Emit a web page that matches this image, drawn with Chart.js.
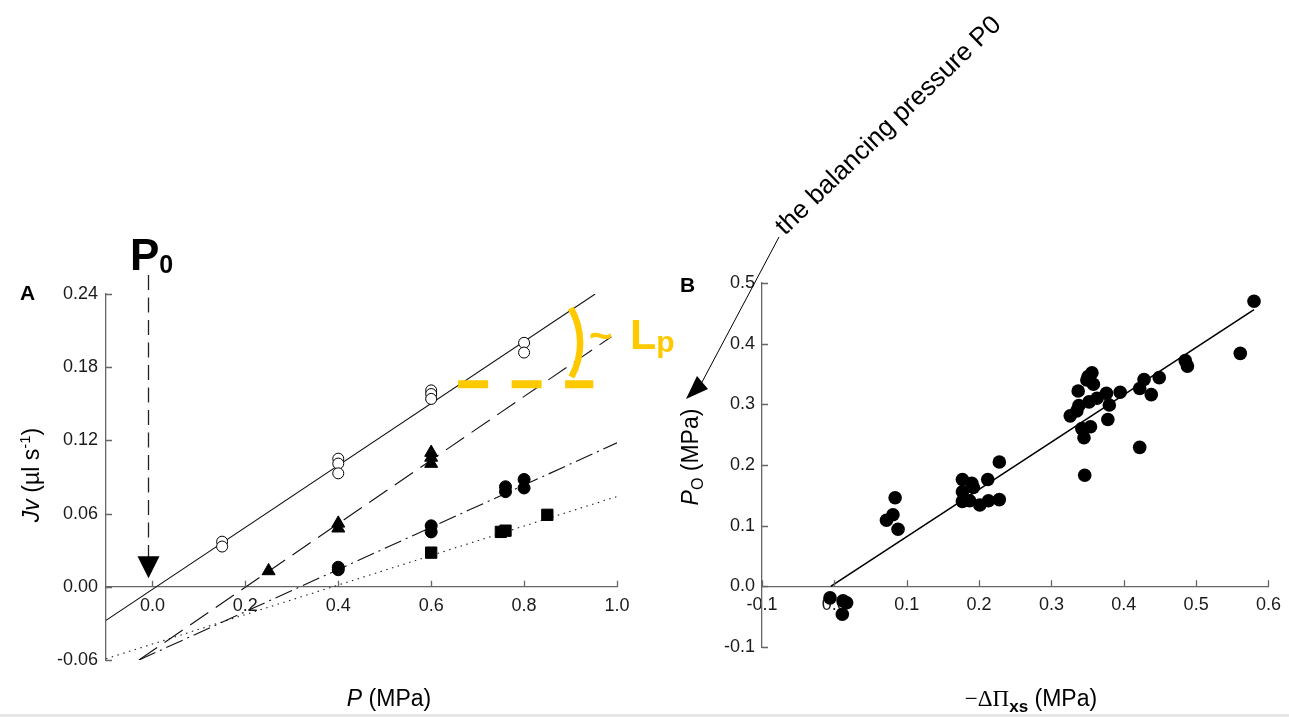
<!DOCTYPE html>
<html><head><meta charset="utf-8">
<script src="https://cdn.jsdelivr.net/npm/chart.js@4.4.1/dist/chart.umd.min.js"></script>
<style>
html,body{margin:0;padding:0;background:#fff;width:1289px;height:717px;overflow:hidden;}
#wa{position:absolute;left:0;top:0;width:700px;height:717px;}
#wb{position:absolute;left:640px;top:0;width:649px;height:717px;}
#strip{position:absolute;left:0;top:714px;width:1289px;height:3px;background:#e6e6e6;}
canvas{display:block;}
</style></head><body>
<div id="wa"><canvas id="ca" width="700" height="717" style="width:700px;height:717px"></canvas></div>
<div id="wb"><canvas id="cb" width="649" height="717" style="width:649px;height:717px"></canvas></div>
<div id="strip"></div>
<script>
// ---------- Panel A data ----------
const aTicksX = [0.0, 0.2, 0.4, 0.6, 0.8, 1.0];
const aTicksY = [-0.06, 0.00, 0.06, 0.12, 0.18, 0.24];
const aOpenP  = [0.15, 0.15, 0.4, 0.4, 0.4, 0.6, 0.6, 0.6, 0.8, 0.8];
const aOpenJv = [0.037, 0.033, 0.105, 0.101, 0.093, 0.161, 0.158, 0.154, 0.200, 0.192];
const aTriP   = [0.25, 0.4, 0.4, 0.6, 0.6, 0.6];
const aTriJv  = [0.013, 0.052, 0.048, 0.110, 0.106, 0.101];
const aDotP   = [0.4, 0.4, 0.6, 0.6, 0.76, 0.76, 0.8, 0.8];
const aDotJv  = [0.016, 0.014, 0.050, 0.045, 0.082, 0.078, 0.088, 0.081];
const aSqP    = [0.6, 0.75, 0.76, 0.85];
const aSqJv   = [0.028, 0.045, 0.046, 0.059];
// regression lines (end points)
const aFitSolidP   = [-0.1, 0.953];  const aFitSolidJv   = [-0.0275, 0.240];
const aFitDashP    = [-0.029, 0.988]; const aFitDashJv    = [-0.060, 0.205];
const aFitDashDotP = [-0.029, 1.0];  const aFitDashDotJv = [-0.060, 0.118];
const aFitDotP     = [-0.1, 1.0];    const aFitDotJv     = [-0.059, 0.074];

// ---------- Panel B data ----------
const bTicksX = [-0.1, 0.0, 0.1, 0.2, 0.3, 0.4, 0.5, 0.6];
const bTicksY = [-0.1, 0.0, 0.1, 0.2, 0.3, 0.4, 0.5];
const bDPi = [-0.006, 0.012, 0.017, 0.011, 0.072, 0.081, 0.084, 0.088,
  0.177, 0.177, 0.177, 0.187, 0.190, 0.192, 0.201, 0.212, 0.213, 0.228, 0.228,
  0.326, 0.335, 0.338, 0.337, 0.342, 0.345, 0.346, 0.354, 0.349, 0.356, 0.351, 0.358,
  0.352, 0.363, 0.376, 0.380, 0.378, 0.395, 0.422, 0.428, 0.438, 0.422, 0.449,
  0.485, 0.488, 0.561, 0.580];
const bP0 = [-0.019, -0.024, -0.027, -0.046, 0.109, 0.118, 0.146, 0.094,
  0.176, 0.156, 0.140, 0.141, 0.170, 0.163, 0.134, 0.176, 0.141, 0.143, 0.205,
  0.281, 0.289, 0.298, 0.322, 0.260, 0.245, 0.183, 0.263, 0.340, 0.352, 0.346, 0.333,
  0.304, 0.310, 0.318, 0.299, 0.275, 0.320, 0.326, 0.341, 0.316, 0.229, 0.344,
  0.372, 0.363, 0.384, 0.470];
const bFitDPi = [-0.005, 0.580];
const bFitP0  = [0.0, 0.456];

const SANS = "'Liberation Sans', Arial, sans-serif";
const SERIF = "'Liberation Serif', 'Times New Roman', serif";
Chart.defaults.font.family = SANS;
const AXIS_COL = '#666';
const LABEL_COL = '#1a1a1a';
const GOLD = '#FFC900';

const pts = (xs, ys) => xs.map((x, i) => ({x: x, y: ys[i]}));

function drawRich(ctx, parts, x, y, align) {
  let total = 0;
  parts.forEach(p => { ctx.font = p.font; p.w = ctx.measureText(p.t).width; total += p.w; });
  let cx = align === 'center' ? x - total / 2 : (align === 'right' ? x - total : x);
  ctx.textBaseline = 'alphabetic';
  ctx.textAlign = 'left';
  parts.forEach(p => {
    ctx.font = p.font;
    ctx.fillStyle = p.color || '#000';
    ctx.fillText(p.t, cx, y + (p.dy || 0));
    cx += p.w;
  });
}

function inwardTicks(chart, xTicks, yTicks) {
  const ctx = chart.ctx, xs = chart.scales.x, ys = chart.scales.y;
  ctx.save();
  ctx.strokeStyle = AXIS_COL; ctx.lineWidth = 1.3;
  const y0 = ys.getPixelForValue(0);
  const x0 = chart.chartArea.left;
  ctx.beginPath();
  xTicks.forEach(v => { const px = Math.round(xs.getPixelForValue(v)) + 0.5; ctx.moveTo(px, y0); ctx.lineTo(px, y0 - 6); });
  yTicks.forEach(v => { const py = Math.round(ys.getPixelForValue(v)) + 0.5; ctx.moveTo(x0, py); ctx.lineTo(x0 + 6, py); });
  ctx.stroke();
  ctx.restore();
}

function linScale(min, max, ticks, dec, pad, pos) {
  const o = {
    type: 'linear', min: min, max: max,
    grid: {display: false, drawTicks: false},
    border: {display: true, color: AXIS_COL, width: 1.3},
    ticks: {color: LABEL_COL, font: {size: 18, family: SANS}, padding: pad,
            callback: v => Number(v).toFixed(dec), autoSkip: false, maxRotation: 0},
    afterBuildTicks: s => { s.ticks = ticks.map(v => ({value: v})); }
  };
  if (pos) o.position = pos;
  return o;
}

// ---------- Panel A ----------
const annoA = {
  id: 'annoA',
  afterDraw(chart) {
    const ctx = chart.ctx, xs = chart.scales.x, ys = chart.scales.y;
    inwardTicks(chart, aTicksX, aTicksY);
    ctx.save();
    // P0 dashed arrow
    const ax = Math.round(xs.getPixelForValue(-0.0097)) + 0.5;
    const yTop = ys.getPixelForValue(0.2555), yTip = ys.getPixelForValue(0.0071);
    ctx.strokeStyle = '#222'; ctx.lineWidth = 1.3; ctx.setLineDash([15, 7.5]);
    ctx.beginPath(); ctx.moveTo(ax, yTop); ctx.lineTo(ax, yTip - 20); ctx.stroke();
    ctx.setLineDash([]);
    ctx.fillStyle = '#000';
    ctx.beginPath(); ctx.moveTo(ax - 11, yTip - 22); ctx.lineTo(ax + 11, yTip - 22); ctx.lineTo(ax, yTip); ctx.closePath(); ctx.fill();
    // gold dashed horizontal
    ctx.strokeStyle = GOLD; ctx.lineWidth = 8; ctx.setLineDash([30, 23.5]);
    const gy = ys.getPixelForValue(0.166);
    ctx.beginPath(); ctx.moveTo(xs.getPixelForValue(0.658), gy); ctx.lineTo(xs.getPixelForValue(0.949), gy); ctx.stroke();
    ctx.setLineDash([]);
    // gold arc
    ctx.lineWidth = 6.5;
    ctx.beginPath();
    ctx.arc(xs.getPixelForValue(0.770), ys.getPixelForValue(0.1998), 70, -30 * Math.PI / 180, 29 * Math.PI / 180);
    ctx.stroke();
    // ~ Lp
    drawRich(ctx, [{t: '~', font: 'bold 40px ' + SANS, color: GOLD}], 589, 349, 'left');
    drawRich(ctx, [{t: 'L', font: 'bold 43px ' + SANS, color: GOLD}, {t: 'p', font: 'bold 30px ' + SANS, color: GOLD, dy: 3}], 630, 349, 'left');
    // P0 label
    drawRich(ctx, [{t: 'P', font: 'bold 44px ' + SANS}, {t: '0', font: 'bold 25px ' + SANS, dy: 3}], 130, 270, 'left');
    // panel letter
    drawRich(ctx, [{t: 'A', font: 'bold 21px ' + SANS}], 20, 300, 'left');
    // x title
    drawRich(ctx, [{t: 'P', font: 'italic 23px ' + SANS}, {t: ' (MPa)', font: '23px ' + SANS}], 389, 706, 'center');
    // y title
    ctx.translate(39, 475); ctx.rotate(-Math.PI / 2);
    drawRich(ctx, [{t: 'Jv', font: 'italic 23px ' + SANS}, {t: ' (µl s', font: '23px ' + SANS},
                   {t: '-1', font: '15px ' + SANS, dy: -9}, {t: ')', font: '23px ' + SANS}], 0, 0, 'center');
    ctx.restore();
  }
};

new Chart(document.getElementById('ca'), {
  type: 'scatter',
  data: {datasets: [
    {data: pts(aOpenP, aOpenJv), pointStyle: 'circle', pointRadius: 5.5, backgroundColor: '#fff', borderColor: '#000', borderWidth: 1, order: 0},
    {data: pts(aTriP, aTriJv), pointStyle: 'triangle', pointRadius: 7.5, backgroundColor: '#000', borderColor: '#000', borderWidth: 1, order: 0},
    {data: pts(aDotP, aDotJv), pointStyle: 'circle', pointRadius: 6, backgroundColor: '#000', borderColor: '#000', borderWidth: 1, order: 0},
    {data: pts(aSqP, aSqJv), pointStyle: 'rect', pointRadius: 8, backgroundColor: '#000', borderColor: '#000', borderWidth: 1, order: 0},
    {data: pts(aFitSolidP, aFitSolidJv), showLine: true, pointRadius: 0, borderColor: '#111', borderWidth: 1.1, order: 1},
    {data: pts(aFitDashP, aFitDashJv), showLine: true, pointRadius: 0, borderColor: '#111', borderWidth: 1.1, borderDash: [22, 9], order: 1},
    {data: pts(aFitDashDotP, aFitDashDotJv), showLine: true, pointRadius: 0, borderColor: '#111', borderWidth: 1.1, borderDash: [18, 5, 2, 5], order: 1},
    {data: pts(aFitDotP, aFitDotJv), showLine: true, pointRadius: 0, borderColor: '#222', borderWidth: 1.1, borderDash: [1.5, 4.5], order: 1}
  ]},
  options: {
    responsive: false, animation: false, devicePixelRatio: 1,
    layout: {padding: {left: 46, right: 83, top: 294, bottom: 57}},
    plugins: {legend: {display: false}, tooltip: {enabled: false}},
    scales: {
      x: linScale(-0.1, 1.0, aTicksX, 1, 8, {y: 0}),
      y: Object.assign(linScale(-0.06, 0.24, aTicksY, 2, 8, 'left'), {afterFit: s => { s.width = 60; }})
    }
  },
  plugins: [annoA]
});

// ---------- Panel B ----------
const annoB = {
  id: 'annoB',
  afterDraw(chart) {
    const ctx = chart.ctx;
    inwardTicks(chart, bTicksX, bTicksY);
    ctx.save();
    drawRich(ctx, [{t: 'B', font: 'bold 21px ' + SANS}], 40, 292, 'left');
    // x title
    drawRich(ctx, [{t: '\u2212\u0394\u03A0', font: '23px ' + SERIF}, {t: 'xs', font: 'bold 17px ' + SANS, dy: 6},
                   {t: ' (MPa)', font: '23px ' + SANS}], 391, 706, 'center');
    // annotation arrow + rotated text
    ctx.strokeStyle = '#000'; ctx.lineWidth = 1;
    ctx.beginPath(); ctx.moveTo(139, 237); ctx.lineTo(61, 384); ctx.stroke();
    ctx.fillStyle = '#000';
    ctx.beginPath(); ctx.moveTo(46, 399); ctx.lineTo(57, 376); ctx.lineTo(68, 389); ctx.closePath(); ctx.fill();
    ctx.save();
    ctx.translate(145, 236); ctx.rotate(-44 * Math.PI / 180);
    drawRich(ctx, [{t: 'the balancing pressure P0', font: '26px ' + SANS}], 0, 0, 'left');
    ctx.restore();
    // y title
    ctx.translate(58, 457); ctx.rotate(-Math.PI / 2);
    drawRich(ctx, [{t: 'P', font: 'italic 23px ' + SANS}, {t: 'O', font: '16px ' + SANS, dy: 5},
                   {t: ' (MPa)', font: '23px ' + SANS}], 0, 0, 'center');
    ctx.restore();
  }
};

new Chart(document.getElementById('cb'), {
  type: 'scatter',
  data: {datasets: [
    {data: pts(bDPi, bP0), pointStyle: 'circle', pointRadius: 6.8, backgroundColor: '#000', borderColor: '#000', borderWidth: 0, order: 0},
    {data: pts(bFitDPi, bFitP0), showLine: true, pointRadius: 0, borderColor: '#000', borderWidth: 1.6, order: 1}
  ]},
  options: {
    responsive: false, animation: false, devicePixelRatio: 1,
    layout: {padding: {left: 72, right: 16, top: 283, bottom: 70}},
    plugins: {legend: {display: false}, tooltip: {enabled: false}},
    scales: {
      x: linScale(-0.1, 0.6, bTicksX, 1, 8, {y: 0}),
      y: Object.assign(linScale(-0.1, 0.5, bTicksY, 1, 7, 'left'), {afterFit: s => { s.width = 50; }})
    }
  },
  plugins: [annoB]
});
</script>
</body></html>
